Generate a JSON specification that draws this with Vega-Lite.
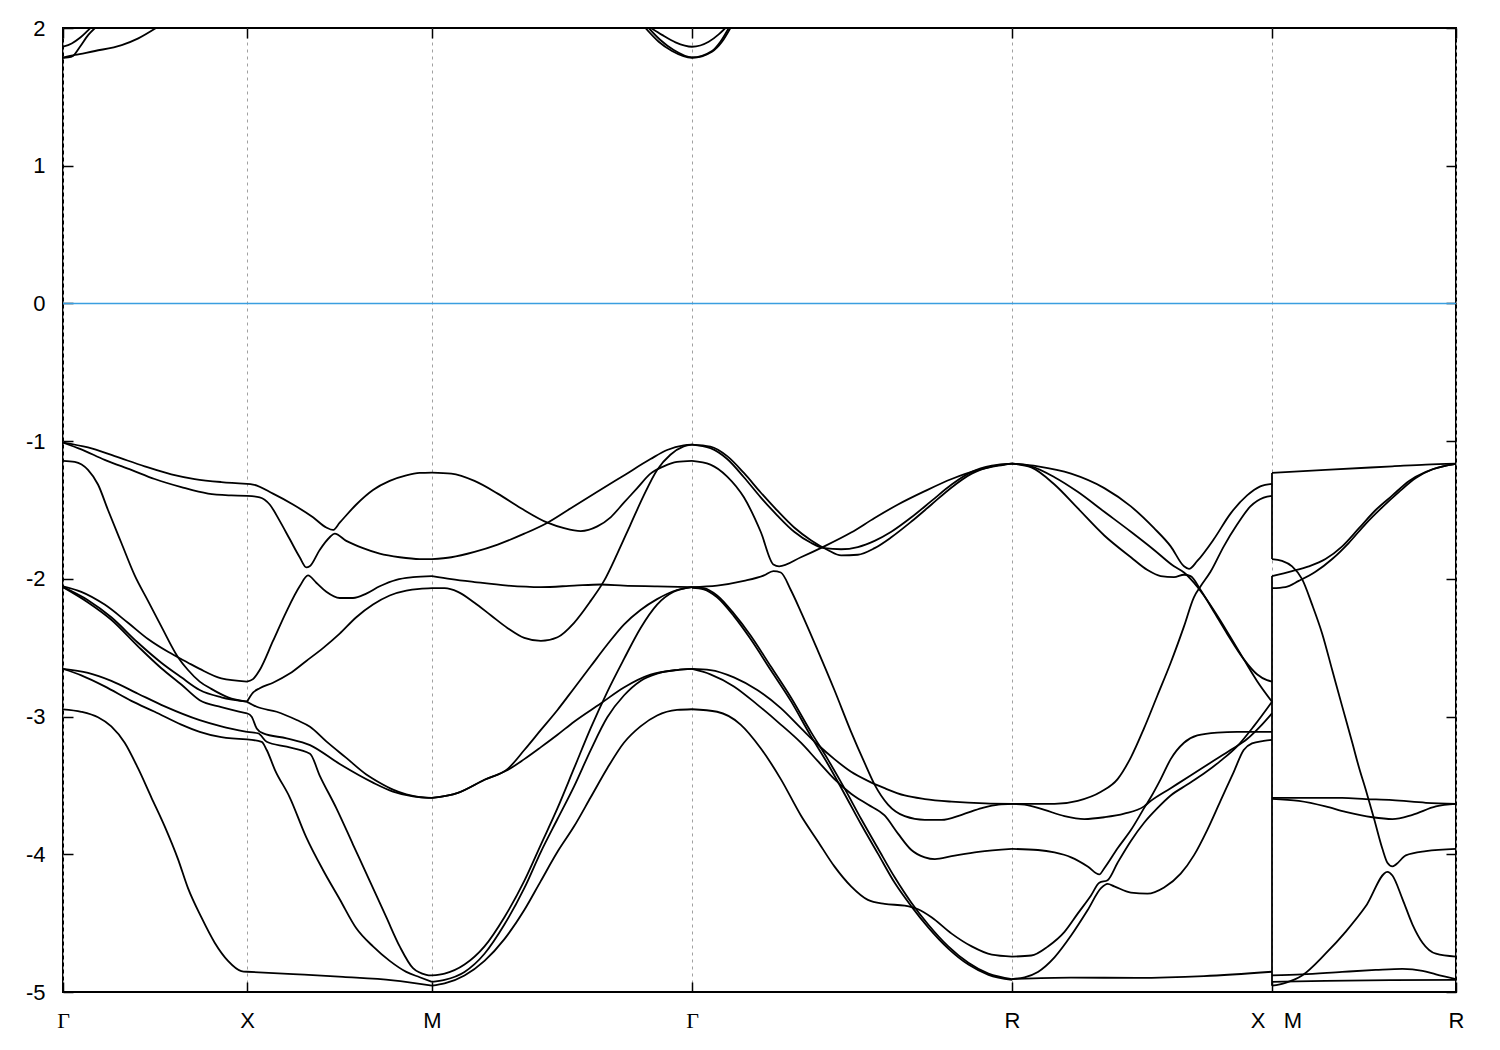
{
"$schema": "https://vega.github.io/schema/vega-lite/v6.json",
"width": 1393, "height": 964,
"autosize": {"type": "none"},
"padding": {"left": 63, "top": 28, "right": 44, "bottom": 58},
"background": "white",
"config": {
  "view": {"stroke": "black", "strokeWidth": 2},
  "axis": {"domain": false, "labelColor": "black", "tickColor": "black", "tickWidth": 1.5, "labelFont": "Liberation Sans", "labelFontSize": 22, "labelFlush": false, "title": null}
},
"datasets": {
"zero": [{"E": 0}],
"conn": [{"s":"K1","k":1209,"E":-1.231},{"s":"K1","k":1209,"E":-1.856},{"s":"K2","k":1209,"E":-1.98},{"s":"K2","k":1209,"E":-4.954}],
"bands": [
{"s":"B1","k":0,"E":-1.01},{"s":"B1","k":25,"E":-1.046},{"s":"B1","k":51.7,"E":-1.109},{"s":"B1","k":81.7,"E":-1.183},{"s":"B1","k":108.3,"E":-1.241},{"s":"B1","k":131.7,"E":-1.275},{"s":"B1","k":158.3,"E":-1.297},{"s":"B1","k":184,"E":-1.31},
{"s":"B2","k":0,"E":-1.01},{"s":"B2","k":18.3,"E":-1.06},{"s":"B2","k":41.7,"E":-1.136},{"s":"B2","k":68.3,"E":-1.209},{"s":"B2","k":91.7,"E":-1.275},{"s":"B2","k":118.3,"E":-1.334},{"s":"B2","k":145,"E":-1.381},{"s":"B2","k":168.3,"E":-1.394},{"s":"B2","k":184,"E":-1.397},
{"s":"B3","k":0,"E":-1.143},{"s":"B3","k":11.7,"E":-1.151},{"s":"B3","k":25,"E":-1.209},{"s":"B3","k":35,"E":-1.315},{"s":"B3","k":45,"E":-1.5},{"s":"B3","k":58.3,"E":-1.738},{"s":"B3","k":71.7,"E":-1.975},{"s":"B3","k":85,"E":-2.16},{"s":"B3","k":98.3,"E":-2.345},{"s":"B3","k":115,"E":-2.569},{"s":"B3","k":125,"E":-2.662},{"s":"B3","k":136.7,"E":-2.746},{"s":"B3","k":148.3,"E":-2.799},{"s":"B3","k":165,"E":-2.86},{"s":"B3","k":184,"E":-2.892},
{"s":"B4","k":0,"E":-2.054},{"s":"B4","k":18.3,"E":-2.094},{"s":"B4","k":41.7,"E":-2.187},{"s":"B4","k":65,"E":-2.319},{"s":"B4","k":85,"E":-2.437},{"s":"B4","k":105,"E":-2.53},{"s":"B4","k":125,"E":-2.609},{"s":"B4","k":136.7,"E":-2.654},{"s":"B4","k":158.3,"E":-2.723},{"s":"B4","k":184,"E":-2.746},
{"s":"B5","k":0,"E":-2.06},{"s":"B5","k":25,"E":-2.155},{"s":"B5","k":48.3,"E":-2.279},{"s":"B5","k":75,"E":-2.464},{"s":"B5","k":98.3,"E":-2.609},{"s":"B5","k":118.3,"E":-2.715},{"s":"B5","k":136.7,"E":-2.807},{"s":"B5","k":158.3,"E":-2.86},{"s":"B5","k":184,"E":-2.892},
{"s":"B6","k":0,"E":-2.06},{"s":"B6","k":25,"E":-2.171},{"s":"B6","k":48.3,"E":-2.297},{"s":"B6","k":75,"E":-2.49},{"s":"B6","k":98.3,"E":-2.649},{"s":"B6","k":118.3,"E":-2.767},{"s":"B6","k":136.7,"E":-2.881},{"s":"B6","k":158.3,"E":-2.931},{"s":"B6","k":184,"E":-2.976},
{"s":"B7","k":0,"E":-2.654},{"s":"B7","k":25,"E":-2.683},{"s":"B7","k":48.3,"E":-2.741},{"s":"B7","k":75,"E":-2.834},{"s":"B7","k":101.7,"E":-2.926},{"s":"B7","k":136.7,"E":-3.026},{"s":"B7","k":158.3,"E":-3.071},{"s":"B7","k":184,"E":-3.111},
{"s":"B8","k":0,"E":-2.654},{"s":"B8","k":18.3,"E":-2.701},{"s":"B8","k":41.7,"E":-2.781},{"s":"B8","k":68.3,"E":-2.886},{"s":"B8","k":91.7,"E":-2.965},{"s":"B8","k":118.3,"E":-3.058},{"s":"B8","k":136.7,"E":-3.111},{"s":"B8","k":158.3,"E":-3.15},{"s":"B8","k":184,"E":-3.166},
{"s":"B9","k":0,"E":-2.947},{"s":"B9","k":18.3,"E":-2.965},{"s":"B9","k":35,"E":-3.005},{"s":"B9","k":48.3,"E":-3.071},{"s":"B9","k":61.7,"E":-3.19},{"s":"B9","k":75,"E":-3.375},{"s":"B9","k":88.3,"E":-3.586},{"s":"B9","k":101.7,"E":-3.797},{"s":"B9","k":115,"E":-4.035},{"s":"B9","k":125,"E":-4.246},{"s":"B9","k":138.3,"E":-4.457},{"s":"B9","k":151.7,"E":-4.642},{"s":"B9","k":165,"E":-4.774},{"s":"B9","k":178.3,"E":-4.848},{"s":"B9","k":184,"E":-4.853},
{"s":"C1","k":0,"E":1.864},{"s":"C1","k":8.7,"E":1.888},{"s":"C1","k":17,"E":1.929},{"s":"C1","k":25.3,"E":1.985},{"s":"C1","k":27.5,"E":2.0},
{"s":"C2","k":0,"E":1.784},{"s":"C2","k":5.3,"E":1.786},{"s":"C2","k":10.3,"E":1.799},{"s":"C2","k":17,"E":1.864},{"s":"C2","k":25.3,"E":1.95},{"s":"C2","k":32,"E":2.0},
{"s":"C3","k":0,"E":1.784},{"s":"C3","k":12,"E":1.804},{"s":"C3","k":32,"E":1.833},{"s":"C3","k":58.7,"E":1.876},{"s":"C3","k":75.3,"E":1.925},{"s":"C3","k":93,"E":2.0},
{"s":"T1","k":588,"E":2.0},{"s":"T1","k":599,"E":1.95},{"s":"T1","k":612.5,"E":1.896},{"s":"T1","k":629,"E":1.864},{"s":"T1","k":645.7,"E":1.9},{"s":"T1","k":655.7,"E":1.954},{"s":"T1","k":662.4,"E":2.0},
{"s":"T2","k":582.4,"E":2.0},{"s":"T2","k":595.7,"E":1.9},{"s":"T2","k":609,"E":1.833},{"s":"T2","k":629,"E":1.784},{"s":"T2","k":649,"E":1.828},{"s":"T2","k":659,"E":1.9},{"s":"T2","k":667.4,"E":2.0},
{"s":"T3","k":585.7,"E":2.0},{"s":"T3","k":597.4,"E":1.913},{"s":"T3","k":610.7,"E":1.84},{"s":"T3","k":629,"E":1.786},{"s":"T3","k":649,"E":1.833},{"s":"T3","k":657.4,"E":1.9},{"s":"T3","k":665.7,"E":2.0},
{"s":"L1","k":184,"E":-1.31},{"s":"L1","k":190,"E":-1.315},{"s":"L1","k":210,"E":-1.381},{"s":"L1","k":230,"E":-1.46},{"s":"L1","k":250,"E":-1.553},{"s":"L1","k":263.3,"E":-1.627},{"s":"L1","k":270,"E":-1.645},{"s":"L1","k":276.7,"E":-1.592},{"s":"L1","k":293.3,"E":-1.46},{"s":"L1","k":310,"E":-1.355},{"s":"L1","k":326.7,"E":-1.289},{"s":"L1","k":343.3,"E":-1.249},{"s":"L1","k":356.7,"E":-1.231},{"s":"L1","k":369,"E":-1.228},
{"s":"L2","k":184,"E":-1.397},{"s":"L2","k":196.7,"E":-1.408},{"s":"L2","k":206.7,"E":-1.46},{"s":"L2","k":216.7,"E":-1.579},{"s":"L2","k":226.7,"E":-1.711},{"s":"L2","k":236.7,"E":-1.843},{"s":"L2","k":243.3,"E":-1.917},{"s":"L2","k":246.7,"E":-1.909},{"s":"L2","k":256.7,"E":-1.79},{"s":"L2","k":266.7,"E":-1.698},{"s":"L2","k":271.7,"E":-1.672},{"s":"L2","k":283.3,"E":-1.724},{"s":"L2","k":300,"E":-1.777},{"s":"L2","k":316.7,"E":-1.817},{"s":"L2","k":336.7,"E":-1.843},{"s":"L2","k":356.7,"E":-1.856},{"s":"L2","k":369,"E":-1.856},
{"s":"L3","k":184,"E":-2.746},{"s":"L3","k":190,"E":-2.728},{"s":"L3","k":196.7,"E":-2.662},{"s":"L3","k":210,"E":-2.451},{"s":"L3","k":223.3,"E":-2.239},{"s":"L3","k":236.7,"E":-2.054},{"s":"L3","k":245,"E":-1.975},{"s":"L3","k":253.3,"E":-2.028},{"s":"L3","k":263.3,"E":-2.094},{"s":"L3","k":276.7,"E":-2.139},{"s":"L3","k":290,"E":-2.139},{"s":"L3","k":303.3,"E":-2.107},{"s":"L3","k":316.7,"E":-2.054},{"s":"L3","k":333.3,"E":-2.007},{"s":"L3","k":350,"E":-1.988},{"s":"L3","k":369,"E":-1.98},
{"s":"L4","k":184,"E":-2.892},{"s":"L4","k":190,"E":-2.826},{"s":"L4","k":196.7,"E":-2.794},{"s":"L4","k":210,"E":-2.754},{"s":"L4","k":226.7,"E":-2.688},{"s":"L4","k":243.3,"E":-2.596},{"s":"L4","k":260,"E":-2.503},{"s":"L4","k":276.7,"E":-2.398},{"s":"L4","k":293.3,"E":-2.279},{"s":"L4","k":310,"E":-2.187},{"s":"L4","k":326.7,"E":-2.121},{"s":"L4","k":343.3,"E":-2.086},{"s":"L4","k":356.7,"E":-2.073},{"s":"L4","k":369,"E":-2.068},
{"s":"L5","k":184,"E":-2.892},{"s":"L5","k":193.7,"E":-2.929},{"s":"L5","k":213.7,"E":-2.965},{"s":"L5","k":233.7,"E":-3.025},{"s":"L5","k":247,"E":-3.074},{"s":"L5","k":263.3,"E":-3.18},{"s":"L5","k":283.3,"E":-3.3},{"s":"L5","k":303.3,"E":-3.42},{"s":"L5","k":316.7,"E":-3.48},{"s":"L5","k":330,"E":-3.53},{"s":"L5","k":343.3,"E":-3.565},{"s":"L5","k":356.7,"E":-3.585},{"s":"L5","k":369,"E":-3.591},
{"s":"L6","k":184,"E":-2.976},{"s":"L6","k":188.7,"E":-3.001},{"s":"L6","k":193.7,"E":-3.086},{"s":"L6","k":200.3,"E":-3.122},{"s":"L6","k":223.7,"E":-3.158},{"s":"L6","k":247,"E":-3.207},{"s":"L6","k":276.7,"E":-3.345},{"s":"L6","k":310,"E":-3.48},{"s":"L6","k":330,"E":-3.545},{"s":"L6","k":350,"E":-3.58},{"s":"L6","k":369,"E":-3.591},
{"s":"L7","k":184,"E":-3.111},{"s":"L7","k":195.3,"E":-3.122},{"s":"L7","k":203.7,"E":-3.183},{"s":"L7","k":223.7,"E":-3.219},{"s":"L7","k":247,"E":-3.27},{"s":"L7","k":256.7,"E":-3.428},{"s":"L7","k":273.3,"E":-3.665},{"s":"L7","k":290,"E":-3.929},{"s":"L7","k":306.7,"E":-4.193},{"s":"L7","k":323.3,"E":-4.457},{"s":"L7","k":336.7,"E":-4.669},{"s":"L7","k":350,"E":-4.827},{"s":"L7","k":363.3,"E":-4.875},{"s":"L7","k":369,"E":-4.88},
{"s":"L8","k":184,"E":-3.166},{"s":"L8","k":198.7,"E":-3.183},{"s":"L8","k":203.7,"E":-3.243},{"s":"L8","k":212,"E":-3.388},{"s":"L8","k":226.7,"E":-3.586},{"s":"L8","k":243.3,"E":-3.877},{"s":"L8","k":260,"E":-4.114},{"s":"L8","k":276.7,"E":-4.326},{"s":"L8","k":293.3,"E":-4.537},{"s":"L8","k":310,"E":-4.669},{"s":"L8","k":326.7,"E":-4.774},{"s":"L8","k":343.3,"E":-4.854},{"s":"L8","k":356.7,"E":-4.893},{"s":"L8","k":369,"E":-4.927},
{"s":"L9","k":184,"E":-4.853},{"s":"L9","k":230,"E":-4.87},{"s":"L9","k":280,"E":-4.89},{"s":"L9","k":330,"E":-4.915},{"s":"L9","k":369,"E":-4.954},
{"s":"M1","k":369,"E":-1.228},{"s":"M1","k":388.3,"E":-1.236},{"s":"M1","k":411.5,"E":-1.289},{"s":"M1","k":434.7,"E":-1.381},{"s":"M1","k":458,"E":-1.487},{"s":"M1","k":484.5,"E":-1.592},{"s":"M1","k":501.1,"E":-1.632},{"s":"M1","k":517.7,"E":-1.653},{"s":"M1","k":534.3,"E":-1.619},{"s":"M1","k":547.6,"E":-1.553},{"s":"M1","k":560.9,"E":-1.447},{"s":"M1","k":574.2,"E":-1.341},{"s":"M1","k":587.5,"E":-1.236},{"s":"M1","k":600.7,"E":-1.183},{"s":"M1","k":614,"E":-1.151},{"s":"M1","k":629,"E":-1.143},
{"s":"M2","k":369,"E":-1.856},{"s":"M2","k":388.3,"E":-1.843},{"s":"M2","k":411.5,"E":-1.804},{"s":"M2","k":434.7,"E":-1.751},{"s":"M2","k":461.3,"E":-1.672},{"s":"M2","k":484.5,"E":-1.592},{"s":"M2","k":507.8,"E":-1.487},{"s":"M2","k":534.3,"E":-1.368},{"s":"M2","k":560.9,"E":-1.249},{"s":"M2","k":587.5,"E":-1.13},{"s":"M2","k":604.1,"E":-1.064},{"s":"M2","k":620.7,"E":-1.03},{"s":"M2","k":629,"E":-1.025},
{"s":"M3","k":369,"E":-1.98},{"s":"M3","k":388.3,"E":-2.002},{"s":"M3","k":411.5,"E":-2.023},{"s":"M3","k":444.7,"E":-2.049},{"s":"M3","k":477.9,"E":-2.06},{"s":"M3","k":511.1,"E":-2.049},{"s":"M3","k":537.7,"E":-2.041},{"s":"M3","k":560.9,"E":-2.049},{"s":"M3","k":594.1,"E":-2.054},{"s":"M3","k":629,"E":-2.06},
{"s":"M4","k":369,"E":-2.068},{"s":"M4","k":381.6,"E":-2.068},{"s":"M4","k":394.9,"E":-2.094},{"s":"M4","k":411.5,"E":-2.173},{"s":"M4","k":428.1,"E":-2.266},{"s":"M4","k":444.7,"E":-2.358},{"s":"M4","k":461.3,"E":-2.429},{"s":"M4","k":477.9,"E":-2.451},{"s":"M4","k":494.5,"E":-2.424},{"s":"M4","k":511.1,"E":-2.319},{"s":"M4","k":527.7,"E":-2.16},{"s":"M4","k":541,"E":-2.015},{"s":"M4","k":554.3,"E":-1.817},{"s":"M4","k":567.5,"E":-1.606},{"s":"M4","k":580.8,"E":-1.394},{"s":"M4","k":594.1,"E":-1.209},{"s":"M4","k":607.4,"E":-1.099},{"s":"M4","k":620.7,"E":-1.038},{"s":"M4","k":629,"E":-1.025},
{"s":"M5","k":369,"E":-3.591},{"s":"M5","k":394.9,"E":-3.554},{"s":"M5","k":421.5,"E":-3.459},{"s":"M5","k":444.7,"E":-3.38},{"s":"M5","k":461.3,"E":-3.243},{"s":"M5","k":477.9,"E":-3.097},{"s":"M5","k":494.5,"E":-2.952},{"s":"M5","k":511.1,"E":-2.794},{"s":"M5","k":527.7,"E":-2.635},{"s":"M5","k":544.3,"E":-2.477},{"s":"M5","k":560.9,"E":-2.332},{"s":"M5","k":577.5,"E":-2.226},{"s":"M5","k":594.1,"E":-2.147},{"s":"M5","k":614,"E":-2.081},{"s":"M5","k":629,"E":-2.06},
{"s":"M6","k":369,"E":-3.591},{"s":"M6","k":394.9,"E":-3.554},{"s":"M6","k":421.5,"E":-3.459},{"s":"M6","k":444.7,"E":-3.388},{"s":"M6","k":461.3,"E":-3.309},{"s":"M6","k":477.9,"E":-3.222},{"s":"M6","k":494.5,"E":-3.132},{"s":"M6","k":511.1,"E":-3.037},{"s":"M6","k":537.7,"E":-2.905},{"s":"M6","k":560.9,"E":-2.789},{"s":"M6","k":587.5,"E":-2.696},{"s":"M6","k":614,"E":-2.662},{"s":"M6","k":629,"E":-2.654},
{"s":"M7","k":369,"E":-4.88},{"s":"M7","k":381.6,"E":-4.867},{"s":"M7","k":401.5,"E":-4.801},{"s":"M7","k":421.5,"E":-4.669},{"s":"M7","k":441.4,"E":-4.457},{"s":"M7","k":461.3,"E":-4.193},{"s":"M7","k":477.9,"E":-3.929},{"s":"M7","k":494.5,"E":-3.665},{"s":"M7","k":511.1,"E":-3.375},{"s":"M7","k":527.7,"E":-3.084},{"s":"M7","k":544.3,"E":-2.82},{"s":"M7","k":560.9,"E":-2.583},{"s":"M7","k":577.5,"E":-2.358},{"s":"M7","k":594.1,"E":-2.187},{"s":"M7","k":610.7,"E":-2.094},{"s":"M7","k":629,"E":-2.06},
{"s":"M8","k":369,"E":-4.927},{"s":"M8","k":381.6,"E":-4.912},{"s":"M8","k":401.5,"E":-4.854},{"s":"M8","k":421.5,"E":-4.722},{"s":"M8","k":441.4,"E":-4.51},{"s":"M8","k":461.3,"E":-4.246},{"s":"M8","k":477.9,"E":-3.982},{"s":"M8","k":494.5,"E":-3.744},{"s":"M8","k":511.1,"E":-3.507},{"s":"M8","k":527.7,"E":-3.243},{"s":"M8","k":544.3,"E":-3.005},{"s":"M8","k":560.9,"E":-2.847},{"s":"M8","k":577.5,"E":-2.741},{"s":"M8","k":594.1,"E":-2.688},{"s":"M8","k":614,"E":-2.662},{"s":"M8","k":629,"E":-2.654},
{"s":"M9","k":369,"E":-4.954},{"s":"M9","k":381.6,"E":-4.938},{"s":"M9","k":401.5,"E":-4.88},{"s":"M9","k":421.5,"E":-4.774},{"s":"M9","k":441.4,"E":-4.616},{"s":"M9","k":461.3,"E":-4.405},{"s":"M9","k":477.9,"E":-4.193},{"s":"M9","k":494.5,"E":-3.982},{"s":"M9","k":511.1,"E":-3.797},{"s":"M9","k":527.7,"E":-3.586},{"s":"M9","k":544.3,"E":-3.375},{"s":"M9","k":560.9,"E":-3.19},{"s":"M9","k":577.5,"E":-3.071},{"s":"M9","k":594.1,"E":-2.992},{"s":"M9","k":614,"E":-2.952},{"s":"M9","k":629,"E":-2.947},
{"s":"G1","k":629,"E":-1.025},{"s":"G1","k":647.4,"E":-1.051},{"s":"G1","k":664.2,"E":-1.13},{"s":"G1","k":680.9,"E":-1.262},{"s":"G1","k":697.7,"E":-1.408},{"s":"G1","k":714.4,"E":-1.54},{"s":"G1","k":731.2,"E":-1.658},{"s":"G1","k":747.9,"E":-1.738},{"s":"G1","k":761.3,"E":-1.777},{"s":"G1","k":778.1,"E":-1.785},{"s":"G1","k":794.8,"E":-1.769},{"s":"G1","k":811.6,"E":-1.724},{"s":"G1","k":828.3,"E":-1.658},{"s":"G1","k":848.4,"E":-1.553},{"s":"G1","k":868.5,"E":-1.434},{"s":"G1","k":888.6,"E":-1.315},{"s":"G1","k":908.7,"E":-1.223},{"s":"G1","k":928.8,"E":-1.178},{"s":"G1","k":949,"E":-1.163},
{"s":"G2","k":629,"E":-1.025},{"s":"G2","k":647.4,"E":-1.04},{"s":"G2","k":664.2,"E":-1.109},{"s":"G2","k":680.9,"E":-1.231},{"s":"G2","k":697.7,"E":-1.373},{"s":"G2","k":714.4,"E":-1.505},{"s":"G2","k":731.2,"E":-1.627},{"s":"G2","k":747.9,"E":-1.719},{"s":"G2","k":764.7,"E":-1.79},{"s":"G2","k":778.1,"E":-1.83},{"s":"G2","k":794.8,"E":-1.825},{"s":"G2","k":811.6,"E":-1.777},{"s":"G2","k":828.3,"E":-1.698},{"s":"G2","k":848.4,"E":-1.584},{"s":"G2","k":868.5,"E":-1.46},{"s":"G2","k":888.6,"E":-1.336},{"s":"G2","k":908.7,"E":-1.236},{"s":"G2","k":928.8,"E":-1.183},{"s":"G2","k":949,"E":-1.163},
{"s":"G3","k":629,"E":-1.143},{"s":"G3","k":647.4,"E":-1.17},{"s":"G3","k":664.2,"E":-1.257},{"s":"G3","k":680.9,"E":-1.408},{"s":"G3","k":697.7,"E":-1.658},{"s":"G3","k":710.4,"E":-1.896},{"s":"G3","k":716.1,"E":-1.909},{"s":"G3","k":737.9,"E":-1.843},{"s":"G3","k":761.3,"E":-1.764},{"s":"G3","k":788.1,"E":-1.664},{"s":"G3","k":811.6,"E":-1.558},{"s":"G3","k":835,"E":-1.46},{"s":"G3","k":861.8,"E":-1.363},{"s":"G3","k":888.6,"E":-1.275},{"s":"G3","k":915.4,"E":-1.209},{"s":"G3","k":935.5,"E":-1.178},{"s":"G3","k":949,"E":-1.163},
{"s":"G4","k":629,"E":-2.06},{"s":"G4","k":654.1,"E":-2.049},{"s":"G4","k":680.9,"E":-2.015},{"s":"G4","k":701,"E":-1.975},{"s":"G4","k":710.4,"E":-1.944},{"s":"G4","k":717.8,"E":-1.954},{"s":"G4","k":727.8,"E":-2.081},{"s":"G4","k":737.9,"E":-2.239},{"s":"G4","k":754.6,"E":-2.517},{"s":"G4","k":771.4,"E":-2.807},{"s":"G4","k":788.1,"E":-3.111},{"s":"G4","k":801.5,"E":-3.335},{"s":"G4","k":811.6,"E":-3.494},{"s":"G4","k":825,"E":-3.639},{"s":"G4","k":841.7,"E":-3.723},{"s":"G4","k":861.8,"E":-3.75},{"s":"G4","k":878.6,"E":-3.75},{"s":"G4","k":898.7,"E":-3.713},{"s":"G4","k":918.8,"E":-3.665},{"s":"G4","k":935.5,"E":-3.639},{"s":"G4","k":949,"E":-3.634},
{"s":"G5","k":629,"E":-2.06},{"s":"G5","k":640.7,"E":-2.068},{"s":"G5","k":654.1,"E":-2.121},{"s":"G5","k":670.9,"E":-2.253},{"s":"G5","k":687.6,"E":-2.411},{"s":"G5","k":707.7,"E":-2.635},{"s":"G5","k":727.8,"E":-2.86},{"s":"G5","k":747.9,"E":-3.111},{"s":"G5","k":764.7,"E":-3.309},{"s":"G5","k":781.4,"E":-3.52},{"s":"G5","k":798.2,"E":-3.744},{"s":"G5","k":814.9,"E":-3.956},{"s":"G5","k":831.7,"E":-4.167},{"s":"G5","k":848.4,"E":-4.352},{"s":"G5","k":865.2,"E":-4.51},{"s":"G5","k":885.3,"E":-4.669},{"s":"G5","k":905.4,"E":-4.788},{"s":"G5","k":925.5,"E":-4.867},{"s":"G5","k":949,"E":-4.906},
{"s":"G6","k":629,"E":-2.065},{"s":"G6","k":640.7,"E":-2.076},{"s":"G6","k":654.1,"E":-2.134},{"s":"G6","k":670.9,"E":-2.271},{"s":"G6","k":687.6,"E":-2.437},{"s":"G6","k":707.7,"E":-2.662},{"s":"G6","k":727.8,"E":-2.886},{"s":"G6","k":747.9,"E":-3.142},{"s":"G6","k":764.7,"E":-3.343},{"s":"G6","k":781.4,"E":-3.56},{"s":"G6","k":798.2,"E":-3.784},{"s":"G6","k":814.9,"E":-3.995},{"s":"G6","k":831.7,"E":-4.207},{"s":"G6","k":848.4,"E":-4.378},{"s":"G6","k":865.2,"E":-4.531},{"s":"G6","k":885.3,"E":-4.685},{"s":"G6","k":905.4,"E":-4.801},{"s":"G6","k":925.5,"E":-4.875},{"s":"G6","k":949,"E":-4.912},
{"s":"G7","k":629,"E":-2.654},{"s":"G7","k":647.4,"E":-2.662},{"s":"G7","k":670.9,"E":-2.715},{"s":"G7","k":694.3,"E":-2.807},{"s":"G7","k":717.8,"E":-2.939},{"s":"G7","k":737.9,"E":-3.084},{"s":"G7","k":754.6,"E":-3.203},{"s":"G7","k":771.4,"E":-3.309},{"s":"G7","k":788.1,"E":-3.401},{"s":"G7","k":804.9,"E":-3.467},{"s":"G7","k":821.6,"E":-3.52},{"s":"G7","k":841.7,"E":-3.573},{"s":"G7","k":861.8,"E":-3.599},{"s":"G7","k":888.6,"E":-3.618},{"s":"G7","k":922.1,"E":-3.631},{"s":"G7","k":949,"E":-3.634},
{"s":"G8","k":629,"E":-2.654},{"s":"G8","k":647.4,"E":-2.693},{"s":"G8","k":670.9,"E":-2.781},{"s":"G8","k":694.3,"E":-2.913},{"s":"G8","k":717.8,"E":-3.058},{"s":"G8","k":737.9,"E":-3.19},{"s":"G8","k":754.6,"E":-3.322},{"s":"G8","k":771.4,"E":-3.454},{"s":"G8","k":788.1,"E":-3.56},{"s":"G8","k":804.9,"E":-3.639},{"s":"G8","k":821.6,"E":-3.718},{"s":"G8","k":835,"E":-3.85},{"s":"G8","k":848.4,"E":-3.969},{"s":"G8","k":861.8,"E":-4.022},{"s":"G8","k":871.9,"E":-4.035},{"s":"G8","k":888.6,"E":-4.014},{"s":"G8","k":915.4,"E":-3.982},{"s":"G8","k":949,"E":-3.961},
{"s":"G9","k":629,"E":-2.947},{"s":"G9","k":654.1,"E":-2.965},{"s":"G9","k":677.6,"E":-3.058},{"s":"G9","k":697.7,"E":-3.23},{"s":"G9","k":717.8,"E":-3.454},{"s":"G9","k":737.9,"E":-3.718},{"s":"G9","k":754.6,"E":-3.903},{"s":"G9","k":771.4,"E":-4.088},{"s":"G9","k":788.1,"E":-4.233},{"s":"G9","k":804.9,"E":-4.331},{"s":"G9","k":821.6,"E":-4.36},{"s":"G9","k":841.7,"E":-4.373},{"s":"G9","k":855.1,"E":-4.399},{"s":"G9","k":868.5,"E":-4.457},{"s":"G9","k":888.6,"E":-4.576},{"s":"G9","k":908.7,"E":-4.669},{"s":"G9","k":928.8,"E":-4.729},{"s":"G9","k":949,"E":-4.743},
{"s":"R1","k":949,"E":-1.163},{"s":"R1","k":974.9,"E":-1.183},{"s":"R1","k":1008.1,"E":-1.236},{"s":"R1","k":1041.3,"E":-1.341},{"s":"R1","k":1067.9,"E":-1.474},{"s":"R1","k":1091.1,"E":-1.632},{"s":"R1","k":1107.7,"E":-1.764},{"s":"R1","k":1121,"E":-1.909},{"s":"R1","k":1126,"E":-1.928},{"s":"R1","k":1134.3,"E":-1.87},{"s":"R1","k":1150.9,"E":-1.711},{"s":"R1","k":1167.5,"E":-1.526},{"s":"R1","k":1184.1,"E":-1.394},{"s":"R1","k":1197.3,"E":-1.328},{"s":"R1","k":1209,"E":-1.31},
{"s":"R2","k":949,"E":-1.163},{"s":"R2","k":968.3,"E":-1.183},{"s":"R2","k":991.5,"E":-1.262},{"s":"R2","k":1014.7,"E":-1.368},{"s":"R2","k":1041.3,"E":-1.513},{"s":"R2","k":1067.9,"E":-1.658},{"s":"R2","k":1091.1,"E":-1.79},{"s":"R2","k":1111,"E":-1.909},{"s":"R2","k":1121,"E":-1.954},{"s":"R2","k":1130.9,"E":-2.028},{"s":"R2","k":1140.9,"E":-2.121},{"s":"R2","k":1154.2,"E":-2.266},{"s":"R2","k":1167.5,"E":-2.424},{"s":"R2","k":1180.7,"E":-2.583},{"s":"R2","k":1194,"E":-2.741},{"s":"R2","k":1209,"E":-2.892},
{"s":"R3","k":949,"E":-1.163},{"s":"R3","k":968.3,"E":-1.191},{"s":"R3","k":991.5,"E":-1.315},{"s":"R3","k":1014.7,"E":-1.487},{"s":"R3","k":1041.3,"E":-1.685},{"s":"R3","k":1067.9,"E":-1.843},{"s":"R3","k":1084.5,"E":-1.936},{"s":"R3","k":1097.7,"E":-1.98},{"s":"R3","k":1111,"E":-1.988},{"s":"R3","k":1121,"E":-1.97},{"s":"R3","k":1127.6,"E":-1.98},{"s":"R3","k":1137.6,"E":-2.081},{"s":"R3","k":1150.9,"E":-2.239},{"s":"R3","k":1164.1,"E":-2.398},{"s":"R3","k":1180.7,"E":-2.583},{"s":"R3","k":1194,"E":-2.693},{"s":"R3","k":1204,"E":-2.736},{"s":"R3","k":1209,"E":-2.746},
{"s":"R4","k":949,"E":-3.634},{"s":"R4","k":991.5,"E":-3.634},{"s":"R4","k":1014.7,"E":-3.612},{"s":"R4","k":1038,"E":-3.546},{"s":"R4","k":1054.6,"E":-3.454},{"s":"R4","k":1067.9,"E":-3.296},{"s":"R4","k":1081.1,"E":-3.084},{"s":"R4","k":1094.4,"E":-2.847},{"s":"R4","k":1107.7,"E":-2.609},{"s":"R4","k":1121,"E":-2.345},{"s":"R4","k":1130.9,"E":-2.134},{"s":"R4","k":1137.6,"E":-2.054},{"s":"R4","k":1147.5,"E":-1.949},{"s":"R4","k":1160.8,"E":-1.764},{"s":"R4","k":1174.1,"E":-1.606},{"s":"R4","k":1187.4,"E":-1.474},{"s":"R4","k":1200.7,"E":-1.41},{"s":"R4","k":1209,"E":-1.397},
{"s":"R5","k":949,"E":-3.634},{"s":"R5","k":961.6,"E":-3.639},{"s":"R5","k":981.5,"E":-3.678},{"s":"R5","k":1001.5,"E":-3.723},{"s":"R5","k":1021.4,"E":-3.744},{"s":"R5","k":1041.3,"E":-3.731},{"s":"R5","k":1061.2,"E":-3.705},{"s":"R5","k":1081.1,"E":-3.652},{"s":"R5","k":1087.8,"E":-3.612},{"s":"R5","k":1107.7,"E":-3.52},{"s":"R5","k":1127.6,"E":-3.428},{"s":"R5","k":1147.5,"E":-3.335},{"s":"R5","k":1167.5,"E":-3.243},{"s":"R5","k":1184.1,"E":-3.163},{"s":"R5","k":1197.3,"E":-3.071},{"s":"R5","k":1209,"E":-2.976},
{"s":"R6","k":949,"E":-3.961},{"s":"R6","k":974.9,"E":-3.969},{"s":"R6","k":991.5,"E":-3.987},{"s":"R6","k":1008.1,"E":-4.022},{"s":"R6","k":1024.7,"E":-4.088},{"s":"R6","k":1036.3,"E":-4.146},{"s":"R6","k":1041.3,"E":-4.101},{"s":"R6","k":1054.6,"E":-3.956},{"s":"R6","k":1067.9,"E":-3.824},{"s":"R6","k":1081.1,"E":-3.665},{"s":"R6","k":1087.8,"E":-3.586},{"s":"R6","k":1097.7,"E":-3.454},{"s":"R6","k":1107.7,"E":-3.309},{"s":"R6","k":1121,"E":-3.19},{"s":"R6","k":1134.3,"E":-3.137},{"s":"R6","k":1154.2,"E":-3.116},{"s":"R6","k":1174.1,"E":-3.111},{"s":"R6","k":1209,"E":-3.111},
{"s":"R7","k":949,"E":-4.743},{"s":"R7","k":968.3,"E":-4.735},{"s":"R7","k":984.9,"E":-4.669},{"s":"R7","k":1001.5,"E":-4.563},{"s":"R7","k":1014.7,"E":-4.431},{"s":"R7","k":1028,"E":-4.299},{"s":"R7","k":1036.3,"E":-4.207},{"s":"R7","k":1044.6,"E":-4.188},{"s":"R7","k":1054.6,"E":-4.061},{"s":"R7","k":1067.9,"E":-3.903},{"s":"R7","k":1081.1,"E":-3.771},{"s":"R7","k":1094.4,"E":-3.665},{"s":"R7","k":1107.7,"E":-3.573},{"s":"R7","k":1124.3,"E":-3.494},{"s":"R7","k":1140.9,"E":-3.414},{"s":"R7","k":1157.5,"E":-3.322},{"s":"R7","k":1174.1,"E":-3.216},{"s":"R7","k":1190.7,"E":-3.071},{"s":"R7","k":1209,"E":-2.892},
{"s":"R8","k":949,"E":-4.906},{"s":"R8","k":961.6,"E":-4.893},{"s":"R8","k":974.9,"E":-4.854},{"s":"R8","k":991.5,"E":-4.748},{"s":"R8","k":1008.1,"E":-4.59},{"s":"R8","k":1024.7,"E":-4.405},{"s":"R8","k":1038,"E":-4.246},{"s":"R8","k":1044.6,"E":-4.215},{"s":"R8","k":1051.3,"E":-4.233},{"s":"R8","k":1067.9,"E":-4.278},{"s":"R8","k":1084.5,"E":-4.286},{"s":"R8","k":1101.1,"E":-4.241},{"s":"R8","k":1117.7,"E":-4.141},{"s":"R8","k":1130.9,"E":-4.008},{"s":"R8","k":1144.2,"E":-3.824},{"s":"R8","k":1157.5,"E":-3.612},{"s":"R8","k":1170.8,"E":-3.401},{"s":"R8","k":1180.7,"E":-3.243},{"s":"R8","k":1189,"E":-3.195},{"s":"R8","k":1200.7,"E":-3.177},{"s":"R8","k":1209,"E":-3.169},
{"s":"R9","k":949,"E":-4.906},{"s":"R9","k":1008,"E":-4.895},{"s":"R9","k":1074,"E":-4.898},{"s":"R9","k":1141,"E":-4.885},{"s":"R9","k":1209,"E":-4.853},
{"s":"S1","k":1209,"E":-1.231},{"s":"S1","k":1262.5,"E":-1.209},{"s":"S1","k":1329.4,"E":-1.183},{"s":"S1","k":1362.9,"E":-1.17},{"s":"S1","k":1393,"E":-1.163},
{"s":"S2","k":1209,"E":-1.856},{"s":"S2","k":1219,"E":-1.87},{"s":"S2","k":1229.1,"E":-1.909},{"s":"S2","k":1239.1,"E":-2.002},{"s":"S2","k":1249.1,"E":-2.187},{"s":"S2","k":1259.2,"E":-2.398},{"s":"S2","k":1269.2,"E":-2.662},{"s":"S2","k":1279.2,"E":-2.926},{"s":"S2","k":1289.3,"E":-3.19},{"s":"S2","k":1296,"E":-3.37},{"s":"S2","k":1302.7,"E":-3.53},{"s":"S2","k":1311,"E":-3.74},{"s":"S2","k":1319.4,"E":-3.96},{"s":"S2","k":1324.4,"E":-4.061},{"s":"S2","k":1329.4,"E":-4.088},{"s":"S2","k":1332.8,"E":-4.075},{"s":"S2","k":1342.8,"E":-4.008},{"s":"S2","k":1362.9,"E":-3.977},{"s":"S2","k":1393,"E":-3.961},
{"s":"S3","k":1209,"E":-1.98},{"s":"S3","k":1229.1,"E":-1.944},{"s":"S3","k":1245.8,"E":-1.909},{"s":"S3","k":1262.5,"E":-1.856},{"s":"S3","k":1279.2,"E":-1.764},{"s":"S3","k":1296,"E":-1.632},{"s":"S3","k":1312.7,"E":-1.5},{"s":"S3","k":1329.4,"E":-1.394},{"s":"S3","k":1346.1,"E":-1.289},{"s":"S3","k":1362.9,"E":-1.223},{"s":"S3","k":1379.6,"E":-1.183},{"s":"S3","k":1393,"E":-1.165},
{"s":"S4","k":1209,"E":-2.068},{"s":"S4","k":1222.4,"E":-2.06},{"s":"S4","k":1235.8,"E":-2.015},{"s":"S4","k":1252.5,"E":-1.949},{"s":"S4","k":1269.2,"E":-1.856},{"s":"S4","k":1285.9,"E":-1.738},{"s":"S4","k":1302.7,"E":-1.6},{"s":"S4","k":1319.4,"E":-1.479},{"s":"S4","k":1336.1,"E":-1.368},{"s":"S4","k":1352.8,"E":-1.268},{"s":"S4","k":1369.6,"E":-1.204},{"s":"S4","k":1382.9,"E":-1.178},{"s":"S4","k":1393,"E":-1.165},
{"s":"S5","k":1209,"E":-3.591},{"s":"S5","k":1245.8,"E":-3.591},{"s":"S5","k":1279.2,"E":-3.591},{"s":"S5","k":1302.7,"E":-3.599},{"s":"S5","k":1329.4,"E":-3.607},{"s":"S5","k":1362.9,"E":-3.626},{"s":"S5","k":1393,"E":-3.634},
{"s":"S6","k":1209,"E":-3.597},{"s":"S6","k":1235.8,"E":-3.612},{"s":"S6","k":1262.5,"E":-3.652},{"s":"S6","k":1282.6,"E":-3.692},{"s":"S6","k":1309.4,"E":-3.731},{"s":"S6","k":1329.4,"E":-3.744},{"s":"S6","k":1349.5,"E":-3.713},{"s":"S6","k":1372.9,"E":-3.652},{"s":"S6","k":1393,"E":-3.634},
{"s":"S7","k":1209,"E":-4.88},{"s":"S7","k":1239.1,"E":-4.872},{"s":"S7","k":1279.2,"E":-4.854},{"s":"S7","k":1312.7,"E":-4.84},{"s":"S7","k":1339.5,"E":-4.832},{"s":"S7","k":1359.5,"E":-4.846},{"s":"S7","k":1372.9,"E":-4.872},{"s":"S7","k":1393,"E":-4.906},
{"s":"S8","k":1209,"E":-4.927},{"s":"S8","k":1262.5,"E":-4.919},{"s":"S8","k":1329.4,"E":-4.914},{"s":"S8","k":1393,"E":-4.912},
{"s":"S9","k":1209,"E":-4.954},{"s":"S9","k":1222.4,"E":-4.933},{"s":"S9","k":1239.1,"E":-4.88},{"s":"S9","k":1262.5,"E":-4.722},{"s":"S9","k":1282.6,"E":-4.563},{"s":"S9","k":1302.7,"E":-4.378},{"s":"S9","k":1324.4,"E":-4.127},{"s":"S9","k":1329.4,"E":-4.154},{"s":"S9","k":1339.5,"E":-4.325},{"s":"S9","k":1349.5,"E":-4.51},{"s":"S9","k":1359.5,"E":-4.642},{"s":"S9","k":1372.9,"E":-4.722},{"s":"S9","k":1393,"E":-4.743}
]
},
"resolve": {"axis": {"x": "independent", "y": "independent"}},
"layer": [
  {
    "data": {"name": "zero"},
    "mark": {"type": "rule", "color": "#3a9ee0", "strokeWidth": 1.6},
    "encoding": {
      "y": {"field": "E", "type": "quantitative", "scale": {"domain": [-5, 2], "nice": false, "zero": false},
            "axis": {"orient": "right", "values": [-5,-4,-3,-2,-1,0,1,2], "labels": false, "ticks": true, "tickSize": -10, "grid": false, "domain": false}}
    }
  },
  {
    "data": {"name": "bands"},
    "mark": {"type": "line", "color": "black", "strokeWidth": 1.8, "interpolate": "monotone", "clip": true},
    "encoding": {
      "x": {"field": "k", "type": "quantitative", "scale": {"domain": [0, 1393], "nice": false, "zero": false},
            "axis": {"orient": "bottom", "values": [0,184,369,629,949,1209,1393], "grid": true, "gridDash": [3,4], "gridColor": "#a0a0a0", "gridWidth": 1,
                     "tickSize": -10, "labelPadding": 28, "labelFlush": false,
                     "labelExpr": "datum.value == 0 || datum.value == 629 ? 'Γ' : datum.value == 184 ? 'X' : datum.value == 369 ? 'M' : datum.value == 1209 ? 'X\u00a0\u00a0\u00a0M' : 'R'",
                     "labelFont": {"condition": {"test": "datum.value == 0 || datum.value == 629", "value": "Liberation Serif"}, "value": "Liberation Sans"},
                     "labelOffset": {"condition": {"test": "datum.value == 1209", "value": 4}, "value": 0}}},
      "y": {"field": "E", "type": "quantitative", "scale": {"domain": [-5, 2], "nice": false, "zero": false},
            "axis": {"orient": "left", "values": [-5,-4,-3,-2,-1,0,1,2], "grid": false, "tickSize": -10, "labelPadding": 28, "labelFlush": false, "labelExpr": "datum.value + ''"}},
      "detail": {"field": "s", "type": "nominal"}
    }
  },
  {
    "data": {"name": "conn"},
    "mark": {"type": "line", "color": "black", "strokeWidth": 1.8},
    "encoding": {
      "x": {"field": "k", "type": "quantitative", "scale": {"domain": [0, 1393], "nice": false, "zero": false},
            "axis": {"orient": "top", "values": [0,184,369,629,949,1209,1393], "labels": false, "grid": false, "tickSize": -10}},
      "y": {"field": "E", "type": "quantitative", "scale": {"domain": [-5, 2], "nice": false, "zero": false}, "axis": null},
      "detail": {"field": "s", "type": "nominal"}
    }
  }
]
}
